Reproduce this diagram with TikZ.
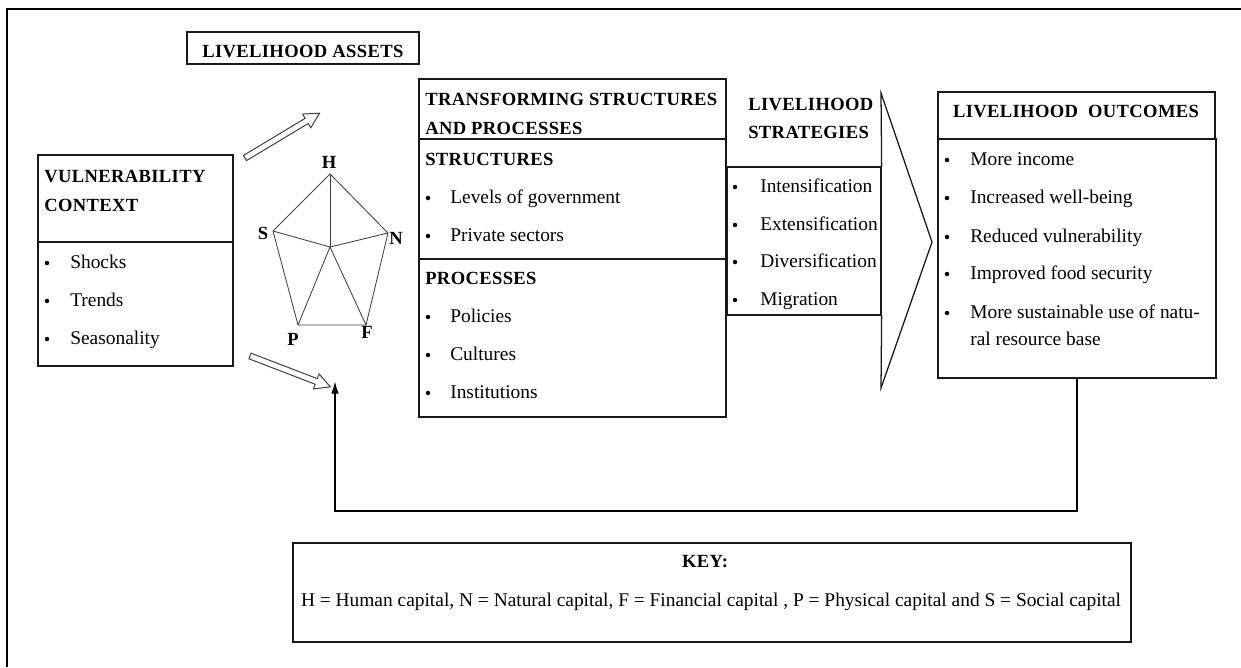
\documentclass[tikz,border=0pt]{standalone}
\usepackage{fontspec}
\setmainfont{Liberation Serif}
\newfontfamily\headfont[LetterSpace=2]{Liberation Serif}
\usepackage{tikz}
\usetikzlibrary{positioning,fit,arrows.meta}

\begin{document}
\begin{tikzpicture}[x=0.025cm,y=-0.025cm,auto]
	\tikzstyle{box}=[draw=black!90, line width=0.9pt, inner sep=0pt]
	\tikzstyle{head}=[inner sep=0pt, anchor=base west, font=\headfont\bfseries\fontsize{13.2}{15}\selectfont]
	\tikzstyle{item}=[inner sep=0pt, anchor=base west, font=\fontsize{13.8}{16}\selectfont]
	\tikzstyle{dot}=[circle, fill=black, inner sep=0pt, minimum size=3.2pt]
	\tikzstyle{asset}=[draw=black!75, line width=0.6pt]
	\tikzstyle{vertexlbl}=[inner sep=0pt, font=\bfseries\fontsize{13.2}{15}\selectfont]
	\tikzset{pics/hollow/.style={code={\draw[draw=black!75, line width=0.7pt, fill=white] (0,3) -- (#1-15,3) -- (#1-15,8) -- (#1,0) -- (#1-15,-8) -- (#1-15,-3) -- (0,-3) -- cycle;}}}
		\useasboundingbox (0,0) rectangle (1241,667);
		\draw[line width=1.4pt] (7,667) -- (7,9) -- (1241,9);
		\node[box, fit={(187,32) (419,64)}] (assets) {};
		\node[box, fit={(38,155) (233,242)}] (vulh) {};
		\node[box, fit={(38,242) (233,366)}] (vulb) {};
		\node[box, fit={(419,79) (726,139)}] (trh) {};
		\node[box, fit={(419,139) (726,259)}] (trs) {};
		\node[box, fit={(419,259) (726,417)}] (trp) {};
		\node[box, fit={(727,167) (881,315)}] (strl) {};
		\node[box, fit={(938,92) (1215,139)}] (outh) {};
		\node[box, fit={(938,139) (1216,378)}] (outb) {};
		\node[box, fit={(293,543) (1131,642)}] (key) {};
		\coordinate (sa1) at (881,93);
		\coordinate (sa2) at (932,242);
		\coordinate (sa3) at (881,388);
		\draw[box] (strl.north east) -- (sa1) -- (sa2) -- (sa3) -- (strl.south east);
		\node[head] (assetst) at (202,57) {LIVELIHOOD ASSETS};
		\node[head] (vult1) at (44,182) {VULNERABILITY};
		\node[head] (vult2) at (44,211) {CONTEXT};
		\node[head] (trt1) at (425,105) {TRANSFORMING STRUCTURES};
		\node[head] (trt2) at (425,134) {AND PROCESSES};
		\node[head] (trst) at (425,165) {STRUCTURES};
		\node[head] (trpt) at (425,284) {PROCESSES};
		\node[head] (strt1) at (748,110) {LIVELIHOOD};
		\node[head] (strt2) at (748,138) {STRATEGIES};
		\node[head, anchor=base] (outt) at (1076,117) {LIVELIHOOD\ \ OUTCOMES};
		\node[head, anchor=base] (keyt) at (705,567) {KEY:};
		\node[item, anchor=base] (keyl) at (711,606) {H = Human capital, N = Natural capital, F = Financial capital , P = Physical capital and S = Social capital};
		\node[item] (v1) at (70,268) {Shocks};
		\node[item] (v2) at (70,306) {Trends};
		\node[item] (v3) at (70,344) {Seasonality};
		\node[dot] (vd1) at (47,263) {};
		\node[dot] (vd2) at (47,301) {};
		\node[dot] (vd3) at (47,339) {};
		\node[item] (s1) at (450,203) {Levels of government};
		\node[item] (s2) at (450,241) {Private sectors};
		\node[item] (p1) at (450,322) {Policies};
		\node[item] (p2) at (450,360) {Cultures};
		\node[item] (p3) at (450,398) {Institutions};
		\node[dot] (sd1) at (428,198) {};
		\node[dot] (sd2) at (428,236) {};
		\node[dot] (pd1) at (428,317) {};
		\node[dot] (pd2) at (428,355) {};
		\node[dot] (pd3) at (428,393) {};
		\node[item] (l1) at (760,192) {Intensification};
		\node[item] (l2) at (760,230) {Extensification};
		\node[item] (l3) at (760,267) {Diversification};
		\node[item] (l4) at (760,305) {Migration};
		\node[dot] (ld1) at (735,187) {};
		\node[dot] (ld2) at (735,225) {};
		\node[dot] (ld3) at (735,262) {};
		\node[dot] (ld4) at (735,300) {};
		\node[item] (o1) at (970,165) {More income};
		\node[item] (o2) at (970,203) {Increased well-being};
		\node[item] (o3) at (970,242) {Reduced vulnerability};
		\node[item] (o4) at (970,279) {Improved food security};
		\node[item] (o5) at (970,318) {More sustainable use of natu-};
		\node[item] (o6) at (970,345) {ral resource base};
		\node[dot] (od1) at (947,160) {};
		\node[dot] (od2) at (947,198) {};
		\node[dot] (od3) at (947,237) {};
		\node[dot] (od4) at (947,274) {};
		\node[dot] (od5) at (947,313) {};
		\coordinate (h) at (330,174);
		\coordinate (n) at (388,233);
		\coordinate (f) at (366,325);
		\coordinate (p) at (298,325);
		\coordinate (s) at (273,231);
		\coordinate (c) at (330,247);
		\draw[asset] (h) -- (n) -- (f) -- (p) -- (s) -- cycle;
		\draw[asset] (c) -- (h);
		\draw[asset] (c) -- (n);
		\draw[asset] (c) -- (f);
		\draw[asset] (c) -- (p);
		\draw[asset] (c) -- (s);
		\node[vertexlbl] (hl) at (329,162) {H};
		\node[vertexlbl] (nl) at (396,238) {N};
		\node[vertexlbl] (fl) at (367,332) {F};
		\node[vertexlbl] (pl) at (293,339) {P};
		\node[vertexlbl] (sl) at (263,233) {S};
		\coordinate (ua) at (245,158);
		\coordinate (da) at (250,356);
		\pic[rotate=31] at (ua) {hollow=87};
		\pic[rotate=-21] at (da) {hollow=86};
		\coordinate (fb) at (335,381);
		\draw[line width=1.3pt, -{Latex[length=9pt,width=5.5pt]}] (outb.south) -- ++(0,132) -| (fb);
\end{tikzpicture}
\end{document}
